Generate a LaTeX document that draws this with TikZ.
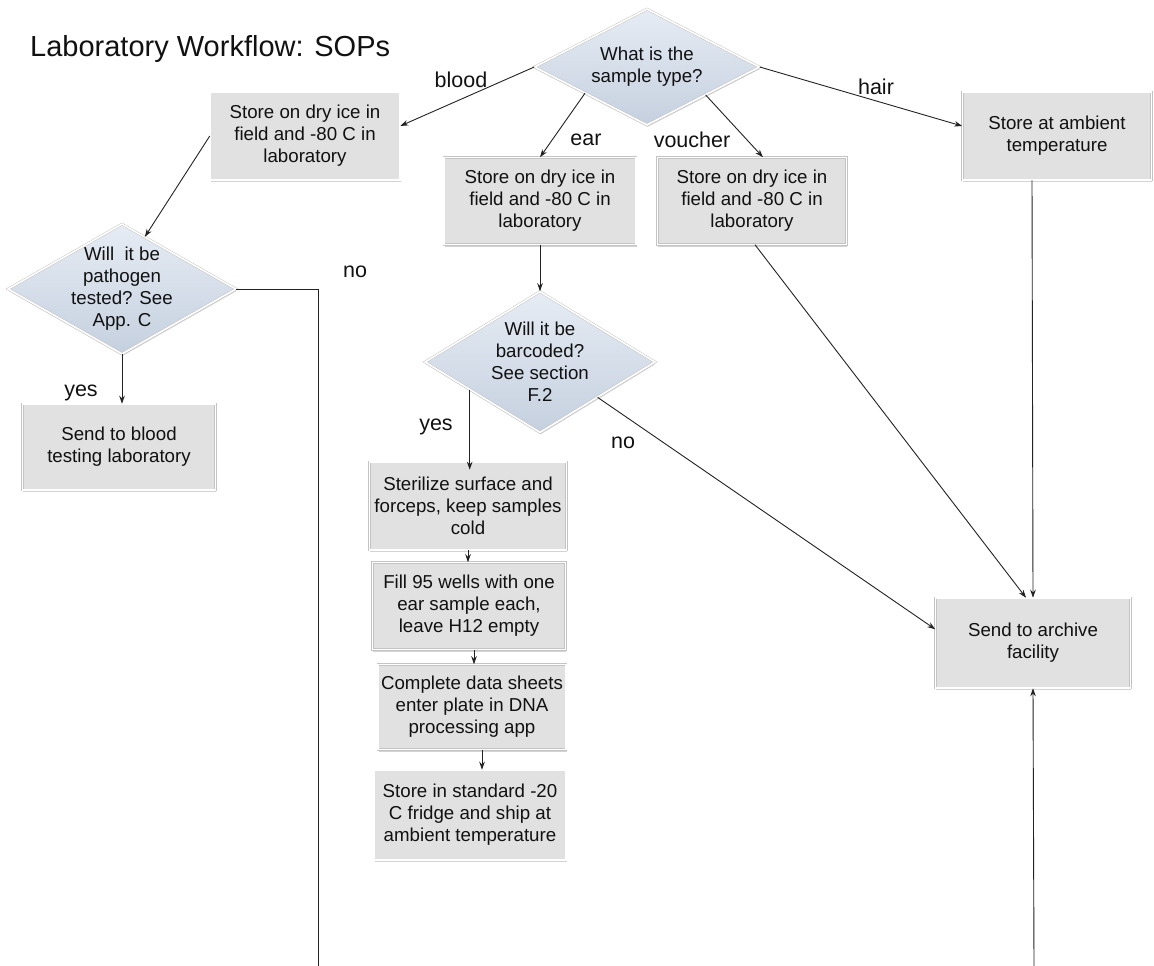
\documentclass[tikz,border=0pt]{standalone}
\usepackage{fontspec}
\setmainfont{Liberation Sans}
\usetikzlibrary{shapes.geometric,arrows.meta,calc,shadows}
\definecolor{boxfill}{HTML}{E1E1E1}
\definecolor{boxline}{HTML}{C4C4C4}
\definecolor{diatop}{HTML}{E6ECF4}
\definecolor{diabot}{HTML}{C5D0DF}
\definecolor{txt}{HTML}{111111}
\definecolor{lin}{HTML}{222222}
\tikzset{
  stepbox/.style={rectangle, fill=boxfill, draw=boxline, double=white, double distance=1.6pt, line width=0.5pt,
    drop shadow={shadow xshift=0.6pt, shadow yshift=-2pt, opacity=0.35},
    align=center, text=txt, inner sep=2pt, font=\fontsize{18.7}{22}\selectfont},
  decide/.style={diamond, top color=diatop, bottom color=diabot, draw=boxline, double=white, double distance=1.6pt, line width=0.5pt,
    drop shadow={shadow xshift=0.6pt, shadow yshift=-2pt, opacity=0.35},
    align=center, text=txt, inner sep=-12pt, font=\fontsize{18.7}{22}\selectfont},
  lbl/.style={text=txt, font=\fontsize{21.5}{24}\selectfont, inner sep=0pt},
  arr/.style={draw=lin, line width=0.9pt, -{Stealth[length=8pt,width=5.5pt]}},
  ln/.style={draw=lin, line width=0.9pt},
}
\begin{document}
\begin{tikzpicture}[x=1pt,y=-1pt]
\useasboundingbox (0,0) rectangle (1154,966);
\node[anchor=base west, text=txt, font=\fontsize{29}{32}\selectfont, inner sep=0pt] (title) at (30,57) {Laboratory Workflow: SOPs};

% decisions
\node[decide, minimum width=225pt, minimum height=116pt, shape aspect=1.9] (top) at (647,67) {What is the\\sample type?};
\node[decide, minimum width=228pt, minimum height=130pt, shape aspect=1.75] (path) at (122,289) {Will\ \ it be\\pathogen\\tested? See\\App. C};
\node[decide, minimum width=230pt, minimum height=141pt, shape aspect=1.6] (bar) at (540,362) {Will it be\\barcoded?\\See section\\F.2};

% boxes
\node[stepbox, minimum width=190pt, minimum height=88pt] (blood) at (305,136) {Store on dry ice in\\field and -80 C in\\laboratory};
\node[stepbox, minimum width=192pt, minimum height=87pt] (ear) at (540,201) {Store on dry ice in\\field and -80 C in\\laboratory};
\node[stepbox, minimum width=189pt, minimum height=87pt] (voucher) at (752,201) {Store on dry ice in\\field and -80 C in\\laboratory};
\node[stepbox, minimum width=189pt, minimum height=88pt] (hair) at (1057,136) {Store at ambient\\temperature};
\node[stepbox, minimum width=193pt, minimum height=86pt] (test) at (119,447) {Send to blood\\testing laboratory};
\node[stepbox, minimum width=197pt, minimum height=88pt] (ster) at (468,506) {Sterilize surface and\\forceps, keep samples\\cold};
\node[stepbox, minimum width=193pt, minimum height=87pt] (fill) at (469,606) {Fill 95 wells with one\\ear sample each,\\leave H12 empty};
\node[stepbox, minimum width=188pt, minimum height=85pt] (comp) at (472,707) {Complete data sheets\\enter plate in DNA\\processing app};
\node[stepbox, minimum width=192pt, minimum height=90pt] (store) at (470,815) {Store in standard -20\\C fridge and ship at\\ambient temperature};
\node[stepbox, minimum width=195pt, minimum height=90pt] (arch) at (1033,643) {Send to archive\\facility};

% free ends
\coordinate (pend) at (318,966);
\coordinate (aend) at (1034,966);
\coordinate (topear) at ($(top.south)!0.55!(top.west)$);
\coordinate (topvou) at ($(top.south)!0.52!(top.east)$);
\coordinate (pathin) at ($(path.north)!0.2!(path.east)$);
\coordinate (baryes) at ($(bar.south)!0.61!(bar.west)$);
\coordinate (barno) at ($(bar.south)!0.5!(bar.east)$);

% connectors
\draw[arr] (top.west) -- (blood.6);
\draw[arr] (topear) -- (ear.north);
\draw[arr] (topvou) -- ([xshift=11pt]voucher.north);
\draw[arr] (top.east) -- (hair.174);
\draw[arr] (blood.west) -- (pathin);
\draw[ln] (path.east) -| (pend);
\draw[arr] (path.south) -- (path.south |- test.north);
\draw[arr] (ear.south) -- (bar.north);
\draw[arr] (baryes) -- ([yshift=-8pt]baryes |- ster.north);
\draw[arr] (barno) -- (arch.172);
\draw[arr] ([xshift=3pt]voucher.south) -- ([xshift=-7pt]arch.north);
\draw[arr] ([xshift=-25pt]hair.south) -- (arch.north);
\draw[arr] (ster.south) -- (ster.south |- fill.north);
\draw[arr] ([xshift=5pt]fill.south) -- ([xshift=5pt]fill.south |- comp.north);
\draw[arr] ([xshift=10pt]comp.south) -- ([xshift=10pt]comp.south |- store.north);
\draw[arr] (aend) -- (arch.south);

% labels
\node[lbl] (lblood) at (461,80) {blood};
\node[lbl] (lear) at (586,140) {ear};
\node[lbl] (lvou) at (692,140) {voucher};
\node[lbl] (lhair) at (876,87) {hair};
\node[lbl] (lno1) at (355,272) {no};
\node[lbl] (lyes1) at (81,393) {yes};
\node[lbl] (lyes2) at (436,427) {yes};
\node[lbl] (lno2) at (623,443) {no};
\end{tikzpicture}
\end{document}
